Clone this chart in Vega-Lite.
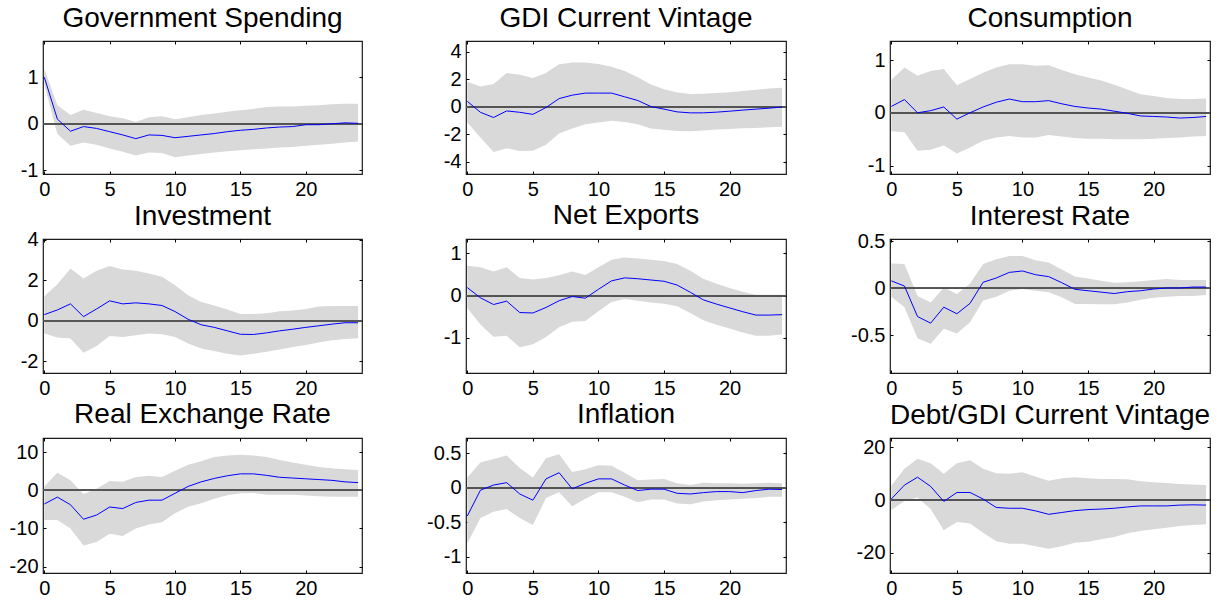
{
"$schema": "https://vega.github.io/schema/vega-lite/v6.json",
"padding": {"left": 8, "top": 3, "right": 2, "bottom": 2},
"background": "#ffffff",
"config": {
  "view": {"stroke": "#1a1a1a", "strokeWidth": 1.2},
  "axis": {"domain": false, "grid": false, "ticks": true, "tickSize": -3, "tickColor": "#000000", "tickWidth": 1, "labelFont": "Liberation Sans", "labelFontSize": 20, "labelColor": "#000000", "labelPadding": 8, "labelFlush": false, "labelOverlap": false, "labelBound": false, "labelExpr": "'' + datum.value"},
  "title": {"font": "Liberation Sans", "fontSize": 28, "fontWeight": "normal", "color": "#000000", "baseline": "alphabetic", "offset": 8}
},
"data": {"values": [
{"p":"gs","h":0,"m":1.0,"lo":0.85,"hi":1.18},{"p":"gs","h":1,"m":0.1,"lo":-0.22,"hi":0.4},{"p":"gs","h":2,"m":-0.16,"lo":-0.47,"hi":0.19},{"p":"gs","h":3,"m":-0.06,"lo":-0.4,"hi":0.3},{"p":"gs","h":4,"m":-0.1,"lo":-0.45,"hi":0.23},{"p":"gs","h":5,"m":-0.17,"lo":-0.53,"hi":0.16},{"p":"gs","h":6,"m":-0.24,"lo":-0.6,"hi":0.12},{"p":"gs","h":7,"m":-0.32,"lo":-0.68,"hi":0.04},{"p":"gs","h":8,"m":-0.24,"lo":-0.62,"hi":0.14},{"p":"gs","h":9,"m":-0.25,"lo":-0.63,"hi":0.16},{"p":"gs","h":10,"m":-0.3,"lo":-0.72,"hi":0.1},{"p":"gs","h":11,"m":-0.27,"lo":-0.68,"hi":0.14},{"p":"gs","h":12,"m":-0.24,"lo":-0.65,"hi":0.19},{"p":"gs","h":13,"m":-0.21,"lo":-0.62,"hi":0.22},{"p":"gs","h":14,"m":-0.17,"lo":-0.59,"hi":0.26},{"p":"gs","h":15,"m":-0.14,"lo":-0.57,"hi":0.29},{"p":"gs","h":16,"m":-0.12,"lo":-0.55,"hi":0.32},{"p":"gs","h":17,"m":-0.09,"lo":-0.53,"hi":0.36},{"p":"gs","h":18,"m":-0.07,"lo":-0.51,"hi":0.37},{"p":"gs","h":19,"m":-0.06,"lo":-0.5,"hi":0.37},{"p":"gs","h":20,"m":-0.02,"lo":-0.47,"hi":0.39},{"p":"gs","h":21,"m":-0.02,"lo":-0.45,"hi":0.4},{"p":"gs","h":22,"m":0.0,"lo":-0.43,"hi":0.42},{"p":"gs","h":23,"m":0.02,"lo":-0.4,"hi":0.43},{"p":"gs","h":24,"m":0.01,"lo":-0.38,"hi":0.43},
{"p":"gdi","h":0,"m":0.4,"lo":-1.15,"hi":1.83},{"p":"gdi","h":1,"m":-0.4,"lo":-2.24,"hi":1.49},{"p":"gdi","h":2,"m":-0.78,"lo":-3.29,"hi":1.66},{"p":"gdi","h":3,"m":-0.3,"lo":-3.02,"hi":2.46},{"p":"gdi","h":4,"m":-0.4,"lo":-3.22,"hi":2.34},{"p":"gdi","h":5,"m":-0.55,"lo":-3.2,"hi":2.1},{"p":"gdi","h":6,"m":-0.05,"lo":-2.76,"hi":2.46},{"p":"gdi","h":7,"m":0.6,"lo":-1.95,"hi":3.1},{"p":"gdi","h":8,"m":0.85,"lo":-1.59,"hi":3.24},{"p":"gdi","h":9,"m":1.0,"lo":-1.27,"hi":3.24},{"p":"gdi","h":10,"m":1.0,"lo":-1.15,"hi":3.12},{"p":"gdi","h":11,"m":1.0,"lo":-1.02,"hi":2.93},{"p":"gdi","h":12,"m":0.73,"lo":-1.1,"hi":2.61},{"p":"gdi","h":13,"m":0.46,"lo":-1.27,"hi":2.15},{"p":"gdi","h":14,"m":0.02,"lo":-1.59,"hi":1.63},{"p":"gdi","h":15,"m":-0.17,"lo":-1.68,"hi":1.29},{"p":"gdi","h":16,"m":-0.37,"lo":-1.76,"hi":1.05},{"p":"gdi","h":17,"m":-0.44,"lo":-1.78,"hi":0.93},{"p":"gdi","h":18,"m":-0.44,"lo":-1.73,"hi":0.95},{"p":"gdi","h":19,"m":-0.39,"lo":-1.66,"hi":1.0},{"p":"gdi","h":20,"m":-0.32,"lo":-1.61,"hi":1.07},{"p":"gdi","h":21,"m":-0.24,"lo":-1.56,"hi":1.15},{"p":"gdi","h":22,"m":-0.17,"lo":-1.54,"hi":1.24},{"p":"gdi","h":23,"m":-0.1,"lo":-1.49,"hi":1.34},{"p":"gdi","h":24,"m":-0.02,"lo":-1.46,"hi":1.39},
{"p":"c","h":0,"m":0.12,"lo":-0.35,"hi":0.62},{"p":"c","h":1,"m":0.25,"lo":-0.37,"hi":0.86},{"p":"c","h":2,"m":0.0,"lo":-0.72,"hi":0.7},{"p":"c","h":3,"m":0.04,"lo":-0.7,"hi":0.79},{"p":"c","h":4,"m":0.11,"lo":-0.62,"hi":0.83},{"p":"c","h":5,"m":-0.12,"lo":-0.77,"hi":0.52},{"p":"c","h":6,"m":0.0,"lo":-0.66,"hi":0.64},{"p":"c","h":7,"m":0.11,"lo":-0.53,"hi":0.76},{"p":"c","h":8,"m":0.2,"lo":-0.47,"hi":0.86},{"p":"c","h":9,"m":0.26,"lo":-0.44,"hi":0.92},{"p":"c","h":10,"m":0.21,"lo":-0.47,"hi":0.92},{"p":"c","h":11,"m":0.21,"lo":-0.47,"hi":0.89},{"p":"c","h":12,"m":0.23,"lo":-0.42,"hi":0.9},{"p":"c","h":13,"m":0.17,"lo":-0.45,"hi":0.81},{"p":"c","h":14,"m":0.12,"lo":-0.48,"hi":0.73},{"p":"c","h":15,"m":0.09,"lo":-0.49,"hi":0.67},{"p":"c","h":16,"m":0.07,"lo":-0.49,"hi":0.61},{"p":"c","h":17,"m":0.03,"lo":-0.5,"hi":0.53},{"p":"c","h":18,"m":-0.01,"lo":-0.5,"hi":0.44},{"p":"c","h":19,"m":-0.06,"lo":-0.5,"hi":0.35},{"p":"c","h":20,"m":-0.07,"lo":-0.49,"hi":0.32},{"p":"c","h":21,"m":-0.08,"lo":-0.48,"hi":0.28},{"p":"c","h":22,"m":-0.1,"lo":-0.47,"hi":0.26},{"p":"c","h":23,"m":-0.09,"lo":-0.45,"hi":0.26},{"p":"c","h":24,"m":-0.07,"lo":-0.44,"hi":0.27},
{"p":"inv","h":0,"m":0.3,"lo":-0.63,"hi":1.2},{"p":"inv","h":1,"m":0.53,"lo":-0.83,"hi":1.8},{"p":"inv","h":2,"m":0.83,"lo":-0.88,"hi":2.58},{"p":"inv","h":3,"m":0.2,"lo":-1.58,"hi":2.08},{"p":"inv","h":4,"m":0.58,"lo":-1.25,"hi":2.47},{"p":"inv","h":5,"m":0.98,"lo":-0.75,"hi":2.7},{"p":"inv","h":6,"m":0.83,"lo":-0.8,"hi":2.53},{"p":"inv","h":7,"m":0.88,"lo":-0.72,"hi":2.47},{"p":"inv","h":8,"m":0.83,"lo":-0.63,"hi":2.33},{"p":"inv","h":9,"m":0.75,"lo":-0.67,"hi":2.17},{"p":"inv","h":10,"m":0.45,"lo":-0.8,"hi":1.75},{"p":"inv","h":11,"m":0.07,"lo":-1.13,"hi":1.25},{"p":"inv","h":12,"m":-0.2,"lo":-1.37,"hi":0.92},{"p":"inv","h":13,"m":-0.33,"lo":-1.5,"hi":0.75},{"p":"inv","h":14,"m":-0.5,"lo":-1.63,"hi":0.55},{"p":"inv","h":15,"m":-0.67,"lo":-1.72,"hi":0.33},{"p":"inv","h":16,"m":-0.68,"lo":-1.63,"hi":0.33},{"p":"inv","h":17,"m":-0.6,"lo":-1.53,"hi":0.37},{"p":"inv","h":18,"m":-0.5,"lo":-1.42,"hi":0.47},{"p":"inv","h":19,"m":-0.42,"lo":-1.3,"hi":0.5},{"p":"inv","h":20,"m":-0.33,"lo":-1.2,"hi":0.58},{"p":"inv","h":21,"m":-0.25,"lo":-1.07,"hi":0.7},{"p":"inv","h":22,"m":-0.17,"lo":-0.97,"hi":0.72},{"p":"inv","h":23,"m":-0.1,"lo":-0.9,"hi":0.72},{"p":"inv","h":24,"m":-0.1,"lo":-0.87,"hi":0.72},
{"p":"nx","h":0,"m":0.19,"lo":-0.29,"hi":0.71},{"p":"nx","h":1,"m":-0.05,"lo":-0.68,"hi":0.67},{"p":"nx","h":2,"m":-0.21,"lo":-0.97,"hi":0.57},{"p":"nx","h":3,"m":-0.13,"lo":-0.95,"hi":0.67},{"p":"nx","h":4,"m":-0.4,"lo":-1.22,"hi":0.42},{"p":"nx","h":5,"m":-0.41,"lo":-1.15,"hi":0.38},{"p":"nx","h":6,"m":-0.28,"lo":-0.98,"hi":0.42},{"p":"nx","h":7,"m":-0.12,"lo":-0.75,"hi":0.48},{"p":"nx","h":8,"m":-0.02,"lo":-0.62,"hi":0.57},{"p":"nx","h":9,"m":-0.06,"lo":-0.6,"hi":0.49},{"p":"nx","h":10,"m":0.15,"lo":-0.37,"hi":0.67},{"p":"nx","h":11,"m":0.35,"lo":-0.15,"hi":0.85},{"p":"nx","h":12,"m":0.42,"lo":-0.08,"hi":0.9},{"p":"nx","h":13,"m":0.4,"lo":-0.12,"hi":0.88},{"p":"nx","h":14,"m":0.37,"lo":-0.16,"hi":0.85},{"p":"nx","h":15,"m":0.34,"lo":-0.19,"hi":0.82},{"p":"nx","h":16,"m":0.25,"lo":-0.25,"hi":0.75},{"p":"nx","h":17,"m":0.08,"lo":-0.41,"hi":0.59},{"p":"nx","h":18,"m":-0.1,"lo":-0.58,"hi":0.4},{"p":"nx","h":19,"m":-0.2,"lo":-0.69,"hi":0.28},{"p":"nx","h":20,"m":-0.29,"lo":-0.78,"hi":0.18},{"p":"nx","h":21,"m":-0.38,"lo":-0.87,"hi":0.09},{"p":"nx","h":22,"m":-0.46,"lo":-0.95,"hi":0.02},{"p":"nx","h":23,"m":-0.46,"lo":-0.95,"hi":0.02},{"p":"nx","h":24,"m":-0.45,"lo":-0.92,"hi":0.02},
{"p":"ir","h":0,"m":0.08,"lo":-0.09,"hi":0.265},{"p":"ir","h":1,"m":0.025,"lo":-0.2,"hi":0.26},{"p":"ir","h":2,"m":-0.3,"lo":-0.53,"hi":-0.08},{"p":"ir","h":3,"m":-0.37,"lo":-0.59,"hi":-0.15},{"p":"ir","h":4,"m":-0.2,"lo":-0.43,"hi":0.01},{"p":"ir","h":5,"m":-0.27,"lo":-0.48,"hi":-0.06},{"p":"ir","h":6,"m":-0.16,"lo":-0.36,"hi":0.05},{"p":"ir","h":7,"m":0.065,"lo":-0.13,"hi":0.26},{"p":"ir","h":8,"m":0.11,"lo":-0.09,"hi":0.31},{"p":"ir","h":9,"m":0.17,"lo":-0.025,"hi":0.345},{"p":"ir","h":10,"m":0.185,"lo":-0.007,"hi":0.345},{"p":"ir","h":11,"m":0.145,"lo":-0.025,"hi":0.3},{"p":"ir","h":12,"m":0.125,"lo":-0.04,"hi":0.275},{"p":"ir","h":13,"m":0.06,"lo":-0.095,"hi":0.2},{"p":"ir","h":14,"m":-0.01,"lo":-0.165,"hi":0.125},{"p":"ir","h":15,"m":-0.025,"lo":-0.165,"hi":0.105},{"p":"ir","h":16,"m":-0.04,"lo":-0.17,"hi":0.08},{"p":"ir","h":17,"m":-0.055,"lo":-0.17,"hi":0.06},{"p":"ir","h":18,"m":-0.035,"lo":-0.15,"hi":0.064},{"p":"ir","h":19,"m":-0.025,"lo":-0.12,"hi":0.075},{"p":"ir","h":20,"m":-0.007,"lo":-0.1,"hi":0.09},{"p":"ir","h":21,"m":0.004,"lo":-0.09,"hi":0.1},{"p":"ir","h":22,"m":0.004,"lo":-0.08,"hi":0.09},{"p":"ir","h":23,"m":0.014,"lo":-0.08,"hi":0.09},{"p":"ir","h":24,"m":0.014,"lo":-0.07,"hi":0.09},
{"p":"rer","h":0,"m":-3.6,"lo":-7.8,"hi":1.0},{"p":"rer","h":1,"m":-1.8,"lo":-7.8,"hi":4.6},{"p":"rer","h":2,"m":-3.8,"lo":-10.0,"hi":2.6},{"p":"rer","h":3,"m":-7.6,"lo":-14.5,"hi":-1.0},{"p":"rer","h":4,"m":-6.5,"lo":-13.6,"hi":0.4},{"p":"rer","h":5,"m":-4.4,"lo":-11.4,"hi":2.4},{"p":"rer","h":6,"m":-4.8,"lo":-12.0,"hi":2.2},{"p":"rer","h":7,"m":-3.2,"lo":-10.0,"hi":3.5},{"p":"rer","h":8,"m":-2.6,"lo":-9.0,"hi":3.8},{"p":"rer","h":9,"m":-2.6,"lo":-8.4,"hi":3.5},{"p":"rer","h":10,"m":-0.8,"lo":-6.0,"hi":5.1},{"p":"rer","h":11,"m":1.0,"lo":-4.3,"hi":6.7},{"p":"rer","h":12,"m":2.2,"lo":-3.4,"hi":7.6},{"p":"rer","h":13,"m":3.1,"lo":-2.2,"hi":8.7},{"p":"rer","h":14,"m":3.8,"lo":-1.3,"hi":9.1},{"p":"rer","h":15,"m":4.3,"lo":-0.8,"hi":9.3},{"p":"rer","h":16,"m":4.3,"lo":-0.7,"hi":9.1},{"p":"rer","h":17,"m":3.9,"lo":-1.2,"hi":8.7},{"p":"rer","h":18,"m":3.4,"lo":-1.2,"hi":7.9},{"p":"rer","h":19,"m":3.2,"lo":-1.2,"hi":7.3},{"p":"rer","h":20,"m":3.0,"lo":-1.4,"hi":6.7},{"p":"rer","h":21,"m":2.8,"lo":-1.6,"hi":6.1},{"p":"rer","h":22,"m":2.6,"lo":-1.7,"hi":5.8},{"p":"rer","h":23,"m":2.2,"lo":-1.7,"hi":5.5},{"p":"rer","h":24,"m":2.0,"lo":-1.7,"hi":5.3},
{"p":"inf","h":0,"m":-0.41,"lo":-0.81,"hi":0.15},{"p":"inf","h":1,"m":-0.035,"lo":-0.44,"hi":0.37},{"p":"inf","h":2,"m":0.04,"lo":-0.35,"hi":0.42},{"p":"inf","h":3,"m":0.075,"lo":-0.31,"hi":0.47},{"p":"inf","h":4,"m":-0.09,"lo":-0.44,"hi":0.29},{"p":"inf","h":5,"m":-0.18,"lo":-0.54,"hi":0.15},{"p":"inf","h":6,"m":0.13,"lo":-0.15,"hi":0.43},{"p":"inf","h":7,"m":0.22,"lo":-0.065,"hi":0.49},{"p":"inf","h":8,"m":-0.015,"lo":-0.27,"hi":0.23},{"p":"inf","h":9,"m":0.065,"lo":-0.16,"hi":0.27},{"p":"inf","h":10,"m":0.13,"lo":-0.065,"hi":0.33},{"p":"inf","h":11,"m":0.13,"lo":-0.065,"hi":0.32},{"p":"inf","h":12,"m":0.04,"lo":-0.13,"hi":0.22},{"p":"inf","h":13,"m":-0.04,"lo":-0.21,"hi":0.11},{"p":"inf","h":14,"m":-0.02,"lo":-0.17,"hi":0.12},{"p":"inf","h":15,"m":-0.02,"lo":-0.17,"hi":0.13},{"p":"inf","h":16,"m":-0.08,"lo":-0.23,"hi":0.065},{"p":"inf","h":17,"m":-0.09,"lo":-0.24,"hi":0.04},{"p":"inf","h":18,"m":-0.07,"lo":-0.2,"hi":0.075},{"p":"inf","h":19,"m":-0.055,"lo":-0.18,"hi":0.065},{"p":"inf","h":20,"m":-0.055,"lo":-0.17,"hi":0.065},{"p":"inf","h":21,"m":-0.07,"lo":-0.16,"hi":0.06},{"p":"inf","h":22,"m":-0.04,"lo":-0.15,"hi":0.065},{"p":"inf","h":23,"m":-0.02,"lo":-0.13,"hi":0.075},{"p":"inf","h":24,"m":-0.025,"lo":-0.13,"hi":0.065},
{"p":"debt","h":0,"m":0.4,"lo":-3.8,"hi":5.5},{"p":"debt","h":1,"m":5.7,"lo":-0.3,"hi":11.9},{"p":"debt","h":2,"m":8.7,"lo":1.0,"hi":15.7},{"p":"debt","h":3,"m":5.2,"lo":-3.4,"hi":14.0},{"p":"debt","h":4,"m":-0.5,"lo":-11.5,"hi":10.0},{"p":"debt","h":5,"m":2.9,"lo":-8.3,"hi":14.0},{"p":"debt","h":6,"m":2.9,"lo":-8.9,"hi":15.1},{"p":"debt","h":7,"m":0.4,"lo":-12.4,"hi":11.9},{"p":"debt","h":8,"m":-2.8,"lo":-15.6,"hi":10.2},{"p":"debt","h":9,"m":-3.1,"lo":-16.6,"hi":10.0},{"p":"debt","h":10,"m":-3.1,"lo":-16.6,"hi":10.6},{"p":"debt","h":11,"m":-4.1,"lo":-17.5,"hi":8.9},{"p":"debt","h":12,"m":-5.4,"lo":-18.5,"hi":7.4},{"p":"debt","h":13,"m":-4.7,"lo":-17.5,"hi":8.3},{"p":"debt","h":14,"m":-4.0,"lo":-16.2,"hi":8.7},{"p":"debt","h":15,"m":-3.6,"lo":-15.8,"hi":8.3},{"p":"debt","h":16,"m":-3.4,"lo":-14.9,"hi":8.0},{"p":"debt","h":17,"m":-3.1,"lo":-14.0,"hi":8.0},{"p":"debt","h":18,"m":-2.6,"lo":-12.6,"hi":7.9},{"p":"debt","h":19,"m":-2.2,"lo":-11.7,"hi":7.2},{"p":"debt","h":20,"m":-2.2,"lo":-11.1,"hi":6.8},{"p":"debt","h":21,"m":-2.2,"lo":-10.5,"hi":6.5},{"p":"debt","h":22,"m":-1.9,"lo":-9.8,"hi":6.1},{"p":"debt","h":23,"m":-1.8,"lo":-9.5,"hi":5.9},{"p":"debt","h":24,"m":-1.9,"lo":-9.2,"hi":5.7}
]},
"columns": 3,
"bounds": "flush",
"spacing": {"row": 65, "column": 104},
"concat": [
{"title": "Government Spending", "width": 319, "height": 133, "transform": [{"filter": "datum.p == 'gs'"}], "resolve": {"axis": {"x": "independent", "y": "independent"}},
 "layer": [
  {"mark": {"type": "area", "color": "#d9d9d9", "opacity": 1}, "encoding": {"x": {"field": "h", "type": "quantitative", "scale": {"domain": [-0.1, 24.3], "nice": false, "zero": false}, "axis": {"orient": "bottom", "values": [0,5,10,15,20], "title": null}}, "y": {"field": "lo", "type": "quantitative", "scale": {"domain": [-1.08, 1.78], "nice": false, "zero": false}, "axis": {"orient": "left", "values": [-1,0,1], "title": null}}, "y2": {"field": "hi"}}},
  {"mark": {"type": "rule", "color": "#555555", "strokeWidth": 0.8}, "encoding": {"y": {"datum": 0, "type": "quantitative", "axis": null}}},
  {"mark": {"type": "line", "color": "#0000ff", "strokeWidth": 1}, "encoding": {"x": {"field": "h", "type": "quantitative", "axis": {"orient": "top", "values": [0,5,10,15,20], "labels": false, "title": null}}, "y": {"field": "m", "type": "quantitative", "axis": {"orient": "right", "values": [-1,0,1], "labels": false, "title": null}}}}
 ]},
{"title": "GDI Current Vintage", "width": 320, "height": 133, "transform": [{"filter": "datum.p == 'gdi'"}], "resolve": {"axis": {"x": "independent", "y": "independent"}},
 "layer": [
  {"mark": {"type": "area", "color": "#d9d9d9", "opacity": 1}, "encoding": {"x": {"field": "h", "type": "quantitative", "scale": {"domain": [-0.1, 24.3], "nice": false, "zero": false}, "axis": {"orient": "bottom", "values": [0,5,10,15,20], "title": null}}, "y": {"field": "lo", "type": "quantitative", "scale": {"domain": [-4.9, 4.8], "nice": false, "zero": false}, "axis": {"orient": "left", "values": [-4,-2,0,2,4], "title": null}}, "y2": {"field": "hi"}}},
  {"mark": {"type": "rule", "color": "#555555", "strokeWidth": 0.8}, "encoding": {"y": {"datum": 0, "type": "quantitative", "axis": null}}},
  {"mark": {"type": "line", "color": "#0000ff", "strokeWidth": 1}, "encoding": {"x": {"field": "h", "type": "quantitative", "axis": {"orient": "top", "values": [0,5,10,15,20], "labels": false, "title": null}}, "y": {"field": "m", "type": "quantitative", "axis": {"orient": "right", "values": [-4,-2,0,2,4], "labels": false, "title": null}}}}
 ]},
{"title": "Consumption", "width": 320, "height": 133, "transform": [{"filter": "datum.p == 'c'"}], "resolve": {"axis": {"x": "independent", "y": "independent"}},
 "layer": [
  {"mark": {"type": "area", "color": "#d9d9d9", "opacity": 1}, "encoding": {"x": {"field": "h", "type": "quantitative", "scale": {"domain": [-0.1, 24.3], "nice": false, "zero": false}, "axis": {"orient": "bottom", "values": [0,5,10,15,20], "title": null}}, "y": {"field": "lo", "type": "quantitative", "scale": {"domain": [-1.16, 1.36], "nice": false, "zero": false}, "axis": {"orient": "left", "values": [-1,0,1], "title": null}}, "y2": {"field": "hi"}}},
  {"mark": {"type": "rule", "color": "#555555", "strokeWidth": 0.8}, "encoding": {"y": {"datum": 0, "type": "quantitative", "axis": null}}},
  {"mark": {"type": "line", "color": "#0000ff", "strokeWidth": 1}, "encoding": {"x": {"field": "h", "type": "quantitative", "axis": {"orient": "top", "values": [0,5,10,15,20], "labels": false, "title": null}}, "y": {"field": "m", "type": "quantitative", "axis": {"orient": "right", "values": [-1,0,1], "labels": false, "title": null}}}}
 ]},
{"title": {"text": "Investment", "offset": -1.5}, "width": 319, "height": 134, "transform": [{"filter": "datum.p == 'inv'"}], "resolve": {"axis": {"x": "independent", "y": "independent"}},
 "layer": [
  {"mark": {"type": "area", "color": "#d9d9d9", "opacity": 1}, "encoding": {"x": {"field": "h", "type": "quantitative", "scale": {"domain": [-0.1, 24.3], "nice": false, "zero": false}, "axis": {"orient": "bottom", "values": [0,5,10,15,20], "title": null}}, "y": {"field": "lo", "type": "quantitative", "scale": {"domain": [-2.58, 4.03], "nice": false, "zero": false}, "axis": {"orient": "left", "values": [-2,0,2,4], "title": null}}, "y2": {"field": "hi"}}},
  {"mark": {"type": "rule", "color": "#555555", "strokeWidth": 0.8}, "encoding": {"y": {"datum": 0, "type": "quantitative", "axis": null}}},
  {"mark": {"type": "line", "color": "#0000ff", "strokeWidth": 1}, "encoding": {"x": {"field": "h", "type": "quantitative", "axis": {"orient": "top", "values": [0,5,10,15,20], "labels": false, "title": null}}, "y": {"field": "m", "type": "quantitative", "axis": {"orient": "right", "values": [-2,0,2,4], "labels": false, "title": null}}}}
 ]},
{"title": {"text": "Net Exports", "offset": 9}, "width": 320, "height": 134, "transform": [{"filter": "datum.p == 'nx'"}], "resolve": {"axis": {"x": "independent", "y": "independent"}},
 "layer": [
  {"mark": {"type": "area", "color": "#d9d9d9", "opacity": 1}, "encoding": {"x": {"field": "h", "type": "quantitative", "scale": {"domain": [-0.1, 24.3], "nice": false, "zero": false}, "axis": {"orient": "bottom", "values": [0,5,10,15,20], "title": null}}, "y": {"field": "lo", "type": "quantitative", "scale": {"domain": [-1.83, 1.34], "nice": false, "zero": false}, "axis": {"orient": "left", "values": [-1,0,1], "title": null}}, "y2": {"field": "hi"}}},
  {"mark": {"type": "rule", "color": "#555555", "strokeWidth": 0.8}, "encoding": {"y": {"datum": 0, "type": "quantitative", "axis": null}}},
  {"mark": {"type": "line", "color": "#0000ff", "strokeWidth": 1}, "encoding": {"x": {"field": "h", "type": "quantitative", "axis": {"orient": "top", "values": [0,5,10,15,20], "labels": false, "title": null}}, "y": {"field": "m", "type": "quantitative", "axis": {"orient": "right", "values": [-1,0,1], "labels": false, "title": null}}}}
 ]},
{"title": {"text": "Interest Rate", "offset": 0.5}, "width": 320, "height": 134, "transform": [{"filter": "datum.p == 'ir'"}], "resolve": {"axis": {"x": "independent", "y": "independent"}},
 "layer": [
  {"mark": {"type": "area", "color": "#d9d9d9", "opacity": 1}, "encoding": {"x": {"field": "h", "type": "quantitative", "scale": {"domain": [-0.1, 24.3], "nice": false, "zero": false}, "axis": {"orient": "bottom", "values": [0,5,10,15,20], "title": null}}, "y": {"field": "lo", "type": "quantitative", "scale": {"domain": [-0.9, 0.525], "nice": false, "zero": false}, "axis": {"orient": "left", "values": [-0.5,0,0.5], "title": null}}, "y2": {"field": "hi"}}},
  {"mark": {"type": "rule", "color": "#555555", "strokeWidth": 0.8}, "encoding": {"y": {"datum": 0, "type": "quantitative", "axis": null}}},
  {"mark": {"type": "line", "color": "#0000ff", "strokeWidth": 1}, "encoding": {"x": {"field": "h", "type": "quantitative", "axis": {"orient": "top", "values": [0,5,10,15,20], "labels": false, "title": null}}, "y": {"field": "m", "type": "quantitative", "axis": {"orient": "right", "values": [-0.5,0,0.5], "labels": false, "title": null}}}}
 ]},
{"title": {"text": "Real Exchange Rate", "offset": 9}, "width": 319, "height": 135, "transform": [{"filter": "datum.p == 'rer'"}], "resolve": {"axis": {"x": "independent", "y": "independent"}},
 "layer": [
  {"mark": {"type": "area", "color": "#d9d9d9", "opacity": 1}, "encoding": {"x": {"field": "h", "type": "quantitative", "scale": {"domain": [-0.1, 24.3], "nice": false, "zero": false}, "axis": {"orient": "bottom", "values": [0,5,10,15,20], "title": null}}, "y": {"field": "lo", "type": "quantitative", "scale": {"domain": [-21.7, 13.7], "nice": false, "zero": false}, "axis": {"orient": "left", "values": [-20,-10,0,10], "title": null}}, "y2": {"field": "hi"}}},
  {"mark": {"type": "rule", "color": "#555555", "strokeWidth": 0.8}, "encoding": {"y": {"datum": 0, "type": "quantitative", "axis": null}}},
  {"mark": {"type": "line", "color": "#0000ff", "strokeWidth": 1}, "encoding": {"x": {"field": "h", "type": "quantitative", "axis": {"orient": "top", "values": [0,5,10,15,20], "labels": false, "title": null}}, "y": {"field": "m", "type": "quantitative", "axis": {"orient": "right", "values": [-20,-10,0,10], "labels": false, "title": null}}}}
 ]},
{"title": {"text": "Inflation", "offset": 8.5}, "width": 320, "height": 135, "transform": [{"filter": "datum.p == 'inf'"}], "resolve": {"axis": {"x": "independent", "y": "independent"}},
 "layer": [
  {"mark": {"type": "area", "color": "#d9d9d9", "opacity": 1}, "encoding": {"x": {"field": "h", "type": "quantitative", "scale": {"domain": [-0.1, 24.3], "nice": false, "zero": false}, "axis": {"orient": "bottom", "values": [0,5,10,15,20], "title": null}}, "y": {"field": "lo", "type": "quantitative", "scale": {"domain": [-1.24, 0.725], "nice": false, "zero": false}, "axis": {"orient": "left", "values": [-1,-0.5,0,0.5], "title": null}}, "y2": {"field": "hi"}}},
  {"mark": {"type": "rule", "color": "#555555", "strokeWidth": 0.8}, "encoding": {"y": {"datum": 0, "type": "quantitative", "axis": null}}},
  {"mark": {"type": "line", "color": "#0000ff", "strokeWidth": 1}, "encoding": {"x": {"field": "h", "type": "quantitative", "axis": {"orient": "top", "values": [0,5,10,15,20], "labels": false, "title": null}}, "y": {"field": "m", "type": "quantitative", "axis": {"orient": "right", "values": [-1,-0.5,0,0.5], "labels": false, "title": null}}}}
 ]},
{"title": {"text": "Debt/GDI Current Vintage", "offset": 7.5}, "width": 320, "height": 135, "transform": [{"filter": "datum.p == 'debt'"}], "resolve": {"axis": {"x": "independent", "y": "independent"}},
 "layer": [
  {"mark": {"type": "area", "color": "#d9d9d9", "opacity": 1}, "encoding": {"x": {"field": "h", "type": "quantitative", "scale": {"domain": [-0.1, 24.3], "nice": false, "zero": false}, "axis": {"orient": "bottom", "values": [0,5,10,15,20], "title": null}}, "y": {"field": "lo", "type": "quantitative", "scale": {"domain": [-27.7, 23.6], "nice": false, "zero": false}, "axis": {"orient": "left", "values": [-20,0,20], "title": null}}, "y2": {"field": "hi"}}},
  {"mark": {"type": "rule", "color": "#555555", "strokeWidth": 0.8}, "encoding": {"y": {"datum": 0, "type": "quantitative", "axis": null}}},
  {"mark": {"type": "line", "color": "#0000ff", "strokeWidth": 1}, "encoding": {"x": {"field": "h", "type": "quantitative", "axis": {"orient": "top", "values": [0,5,10,15,20], "labels": false, "title": null}}, "y": {"field": "m", "type": "quantitative", "axis": {"orient": "right", "values": [-20,0,20], "labels": false, "title": null}}}}
 ]}
]
}
